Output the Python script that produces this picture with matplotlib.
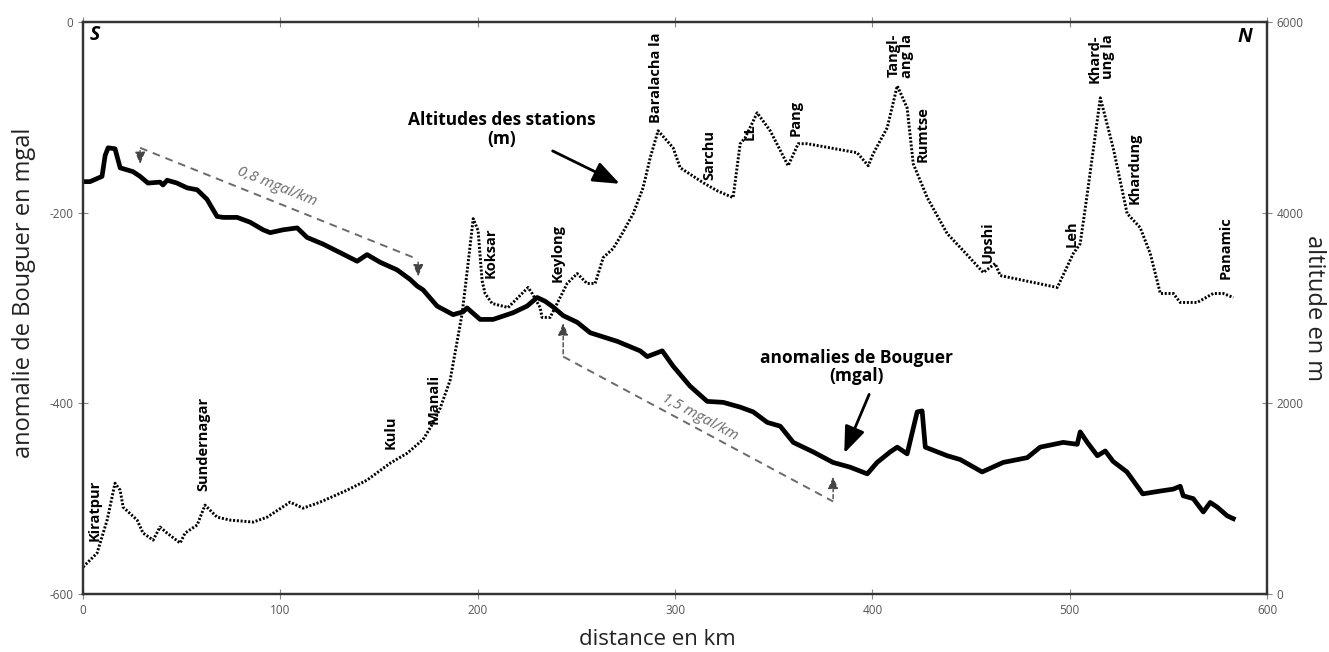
import numpy as np
import matplotlib
matplotlib.use("Agg")
import matplotlib.pyplot as plt

plt.rcParams["axes.unicode_minus"] = False
plt.rcParams["font.family"] = ["Open Sans", "DejaVu Sans"]

# anomalie de Bouguer (mgal) le long du profil
dist_bouguer = [0, 3.5, 9.6, 11.2, 12.7, 16.2, 18.8, 25.3, 28.9, 32.9, 39, 40.5, 42.6, 47.6,
                52.7, 57.8, 62.8, 67.9, 71, 78.1, 84.6, 91.2, 94.8, 101.4, 108.5, 113.5,
                121.6, 130.3, 138.9, 143.9, 150.5, 159.1, 165.7, 169.3, 172.3, 179.4, 187.5,
                192.6, 194.6, 201.2, 207.8, 217.9, 225, 230.1, 234.2, 238.2, 243.3, 250.4,
                257, 270.7, 282.3, 285.9, 293.5, 299, 307.6, 316.3, 324.4, 333, 339.6, 346.7,
                353.3, 359.9, 370, 380, 388.7, 397.4, 402.4, 409, 412.6, 417.6, 422.7, 425.2,
                426.8, 437.9, 444.5, 455.6, 466.3, 478.5, 485, 496.7, 503.8, 505.3, 508.9,
                514, 518, 522, 529, 537, 546, 552.5, 556, 557.5, 562.6, 567.7, 571.2, 574.8,
                579.8, 582.9]
bouguer = [-167.5, -167.5, -162, -140, -132, -133, -153, -157, -162, -169, -168, -171, -166,
           -169, -174, -176, -186, -204, -205, -205, -210, -218, -221, -218, -216, -226,
           -233, -242, -251, -244, -252, -260, -270, -277, -281, -298, -307, -304, -300,
           -312, -312, -305, -298, -289, -293, -299, -308, -315, -326, -335, -345, -351,
           -345, -361, -382, -398, -399, -404, -409, -420, -424, -441, -451, -462, -467,
           -474, -462, -451, -446, -453, -409, -408, -446, -455, -459, -472, -462, -457,
           -446, -441, -443, -430, -441, -455, -450, -461, -472, -495, -492, -490, -487,
           -497, -500, -514, -504, -509, -518, -521]

# altitude des stations (m)
dist_alt = [0, 7.1, 12.2, 16.2, 18.8, 20.3, 27.4, 30.4, 35.5, 39, 42.6, 49.2, 51.7, 57.8,
            61.8, 67.9, 74.5, 86.2, 93.3, 104.9, 111.5, 120.1, 133.8, 143.9, 155.6, 164.2,
            172.3, 177, 181, 186, 192.1, 195.1, 197.7, 200.2, 202.2, 203.7, 207.3, 215.4,
            225.5, 227.6, 231.6, 232.6, 236.7, 237.7, 245.3, 250.4, 255.4, 259.5, 263.6,
            268.6, 273.2, 278.8, 283.8, 287.4, 291.4, 299, 302.6, 314.2, 321.3, 329.4, 333,
            335.5, 341.6, 348.2, 357.3, 362.4, 367, 392.3, 397.9, 400.4, 407.5, 412.6,
            417.6, 420.7, 427.8, 437.9, 446, 456.2, 462.2, 464.8, 493.7, 501.8, 505.3,
            508.9, 515.5, 522, 529.1, 535.7, 540.8, 545.9, 552.5, 556, 564.6, 572.7, 577.8,
            582.9]
altitude = [283, 429, 775, 1162, 1089, 911, 775, 639, 565, 702, 639, 534, 639, 723, 932, 806,
            775, 754, 806, 963, 900, 963, 1089, 1194, 1372, 1476, 1620, 1780, 1950, 2241,
            2942, 3466, 3937, 3812, 3288, 3152, 3047, 3005, 3215, 3152, 3005, 2901, 2901,
            2942, 3257, 3361, 3257, 3257, 3529, 3623, 3780, 3990, 4262, 4576, 4859, 4681,
            4471, 4314, 4230, 4157, 4723, 4785, 5047, 4859, 4492, 4723, 4723, 4628, 4492,
            4618, 4890, 5330, 5099, 4513, 4157, 3780, 3602, 3372, 3466, 3340, 3215, 3571,
            3675, 4199, 5204, 4681, 3990, 3843, 3571, 3152, 3152, 3058, 3058, 3152, 3152,
            3110]

stations = ["Kiratpur", "Sundernagar", "Kulu", "Manali", "Koksar", "Keylong", "Baralacha la",
            "Sarchu", "LL", "Pang", "Tangl-\nang la", "Rumtse", "Upshi", "Leh",
            "Khard-\nung la", "Khardung", "Panamic"]
station_km = [6.1, 60.8, 156.1, 177.4, 206.3, 240.7, 290.4, 317.3, 338, 360.9, 414.1,
              425.7, 458.7, 500.8, 516.0, 532.7, 578.8]
station_alt = [880, 1571, 1696, 2042, 3581, 3581, 5414, 4607, 4848, 4995, 5644, 4827, 3686,
               3780, 5613, 4461, 3634]

fig = plt.figure(figsize=(13.29, 6.52), dpi=100)
ax = fig.add_axes([0.0625, 0.089, 0.8909, 0.8773])
ax2 = ax.twinx()

ax.plot(dist_bouguer, bouguer, color="black", lw=3.4, solid_joinstyle="round", zorder=3)
ax2.plot(dist_alt, altitude, color="black", lw=2.1, linestyle=(0, (0.7, 0.6)), zorder=2)

ax.set_xlim(0, 600)
ax.set_ylim(-600, 0)
ax2.set_ylim(0, 6000)
ax.set_xticks(range(0, 601, 100))
ax.set_yticks([0, -200, -400, -600])
ax2.set_yticks([0, 2000, 4000, 6000])

for a in (ax, ax2):
    for s in a.spines.values():
        s.set_color("#333333")
        s.set_linewidth(1.6)
    a.tick_params(labelsize=8.5, labelcolor="#555555", color="#888888",
                  direction="inout", length=7, width=0.8)
ax.tick_params(top=True)

ax.set_xlabel("distance en km", fontsize=16, color="#222222")
ax.xaxis.set_label_coords(0.485, -0.062)
ax.set_ylabel("anomalie de Bouguer en mgal", fontsize=17, color="#222222")
ax.yaxis.set_label_coords(-0.04, 0.526)
ax2.set_ylabel("altitude en m", fontsize=17, color="#222222", rotation=270, labelpad=16)

# noms des stations
for name, km, alt in zip(stations, station_km, station_alt):
    ax2.text(km, alt, name, rotation=90, ha="center", va="center", fontsize=10.5,
             fontweight="bold", multialignment="right", linespacing=0.95, zorder=4)

ax.text(6.1, -14, "S", fontsize=14, fontweight="bold", fontstyle="italic", ha="center", va="center")
ax.text(589, -16, "N", fontsize=14, fontweight="bold", fontstyle="italic", ha="center", va="center")

# légendes fléchées
head = dict(arrowstyle="-|>,head_length=0.9,head_width=0.35", color="black",
            lw=2, mutation_scale=18)
ax.text(212, -113, "Altitudes des stations\n(m)", fontsize=12.5, fontweight="bold",
        ha="center", va="center", linespacing=1.05)
ax.annotate("", xy=(273.2, -171), xytext=(236.7, -134), arrowprops=head)
ax.text(391.8, -362, "anomalies de Bouguer\n(mgal)", fontsize=12.5, fontweight="bold",
        ha="center", va="center", linespacing=1.05)
ax.annotate("", xy=(385.2, -455), xytext=(398.9, -388), arrowprops=head)

# gradients
grey = "#6a6a6a"
ax.plot([28.9, 169.8], [-132, -249], color=grey, lw=1.4, dashes=(4, 3))
ax.plot([243.3, 380.1], [-351, -503], color=grey, lw=1.4, dashes=(4, 3))
small = dict(arrowstyle="-|>,head_length=0.6,head_width=0.25", color="#444444", lw=1,
             linestyle=(0, (3, 2)), mutation_scale=12)
ax.annotate("", xy=(28.9, -152), xytext=(28.9, -132), arrowprops=small)
ax.annotate("", xy=(169.8, -270), xytext=(169.8, -249), arrowprops=small)
ax.annotate("", xy=(243.3, -313), xytext=(243.3, -351), arrowprops=small)
ax.annotate("", xy=(380.1, -474), xytext=(380.1, -503), arrowprops=small)
ax.text(98.3, -173, "0,8 mgal/km", fontsize=11, fontstyle="italic", color=grey,
        rotation=-21.9, ha="center", va="center", rotation_mode="anchor")
ax.text(312.7, -415, "1,5 mgal/km", fontsize=11, fontstyle="italic", color=grey,
        rotation=-28.2, ha="center", va="center", rotation_mode="anchor")

fig.savefig("out.png", dpi=100, facecolor="white")
